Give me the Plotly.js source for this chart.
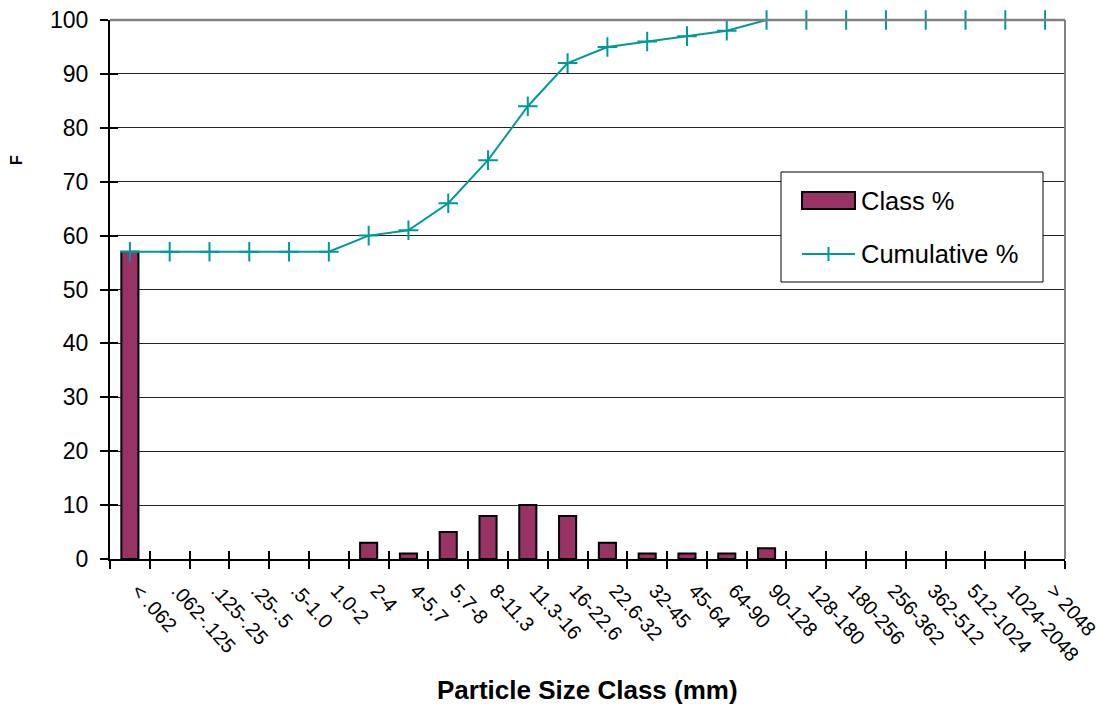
<!DOCTYPE html>
<html><head><meta charset="utf-8">
<script src="https://cdn.plot.ly/plotly-3.0.1.min.js"></script>
<style>html,body{margin:0;padding:0;background:#fff}#c{width:1110px;height:706px}</style>
</head><body><div id="c"></div>
<script>
var categories = ["< .062", ".062-.125", ".125-.25", ".25-.5", ".5-1.0", "1.0-2", "2-4", "4-5.7", "5.7-8", "8-11.3", "11.3-16", "16-22.6", "22.6-32", "32-45", "45-64", "64-90", "90-128", "128-180", "180-256", "256-362", "362-512", "512-1024", "1024-2048", "> 2048"];
var classPct = [57, 0, 0, 0, 0, 0, 3, 1, 5, 8, 10, 8, 3, 1, 1, 1, 2, 0, 0, 0, 0, 0, 0, 0];
var cumulativePct = [57, 57, 57, 57, 57, 57, 60, 61, 66, 74, 84, 92, 95, 96, 97, 98, 100, 100, 100, 100, 100, 100, 100, 100];
var yTicks = [0, 10, 20, 30, 40, 50, 60, 70, 80, 90, 100];

var BAR = '#993366', LINE = '#009999';
var L = 110, R = 45, T = 20, B = 147, W = 1110, H = 706;
var pw = W - L - R, ph = H - T - B;
function px(x){ return (x - L) / pw; }
function py(y){ return (H - B - y) / ph; }

var bounds = [];
for (var i = 0; i <= categories.length; i++) bounds.push(i - 0.5);

var traces = [
  {type:'bar', name:'Class %', x:categories, y:classPct, showlegend:false,
   marker:{color:BAR, line:{color:'#000', width:classPct.map(function(v){return v > 0 ? 2 : 0;})}}, width:0.43},
  {type:'scatter', mode:'lines+markers', name:'Cumulative %', x:categories, y:cumulativePct, showlegend:false, cliponaxis:false,
   line:{color:LINE, width:2}, marker:{symbol:'cross-thin', size:14, line:{color:LINE, width:2}}},
  // invisible helper so the overlay tick axes get drawn
  {type:'scatter', mode:'markers', x:[0], y:[0], xaxis:'x2', yaxis:'y2', showlegend:false, hoverinfo:'skip',
   marker:{size:1, opacity:0}}
];

var layout = {
  width:W, height:H,
  margin:{l:L, r:R, t:T, b:B},
  paper_bgcolor:'#fff', plot_bgcolor:'#fff',
  font:{family:'Liberation Sans, Arial, sans-serif', color:'#000', size:18},
  showlegend:false,
  xaxis:{type:'category', tickangle:48, tickfont:{size:20}, showline:true, linecolor:'#000', linewidth:2,
         ticks:'outside', ticklen:8, tickwidth:1.5, tickcolor:'#000', tickson:'boundaries', showgrid:false,
         automargin:false, range:[-0.5, categories.length - 0.5], ticklabelstandoff:10, ticklabelshift:8},
  xaxis2:{overlaying:'x', anchor:'y2', side:'bottom', range:[-0.5, categories.length - 0.5], tickvals:bounds,
          ticks:'inside', ticklen:8, tickwidth:1.5, tickcolor:'#000', showticklabels:false, showgrid:false,
          zeroline:false, showline:false, automargin:false},
  yaxis:{range:[0,100], tickvals:yTicks, ticks:'outside', ticklen:8, tickwidth:1.5, tickcolor:'#000', showline:true, linecolor:'#000', linewidth:2,
         showgrid:true, gridcolor:'#222', gridwidth:1, zeroline:false, tickfont:{size:23}, automargin:false, ticklabelstandoff:7},
  yaxis2:{overlaying:'y', anchor:'x2', side:'left', range:[0,100], tickvals:yTicks, ticks:'inside', ticklen:8, tickwidth:1.5,
          tickcolor:'#000', showticklabels:false, showgrid:false, zeroline:false, showline:false, automargin:false},
  shapes:[
    {type:'line', xref:'paper', yref:'paper', x0:1, x1:1, y0:0, y1:1, line:{color:'#808080', width:2}},
    {type:'line', xref:'paper', yref:'paper', x0:0, x1:1, y0:1, y1:1, line:{color:'#808080', width:2.5}},
    {type:'rect', xref:'paper', yref:'paper', x0:px(781), x1:px(1043), y0:py(172), y1:py(282),
     fillcolor:'#fff', line:{color:'#000', width:1}, layer:'above'},
    {type:'rect', xref:'paper', yref:'paper', x0:px(802), x1:px(855), y0:py(192), y1:py(209),
     fillcolor:BAR, line:{color:'#000', width:2}, layer:'above'},
    {type:'line', xref:'paper', yref:'paper', x0:px(802), x1:px(855), y0:py(254), y1:py(254),
     line:{color:LINE, width:2}, layer:'above'},
    {type:'line', xref:'paper', yref:'paper', x0:px(828.5), x1:px(828.5), y0:py(247), y1:py(261),
     line:{color:LINE, width:2}, layer:'above'}
  ],
  annotations:[
    {text:'F', xref:'paper', yref:'paper', x:px(16), y:py(160), showarrow:false, textangle:-90,
     font:{size:16, weight:'bold'}, xanchor:'center', yanchor:'middle'},
    {text:'Particle Size Class (mm)', xref:'paper', yref:'paper', x:px(587), y:py(690), showarrow:false,
     font:{size:26, weight:'bold'}, xanchor:'center', yanchor:'middle'},
    {text:'Class %', xref:'paper', yref:'paper', x:px(859), y:py(201), showarrow:false,
     font:{size:25.5}, xanchor:'left', yanchor:'middle'},
    {text:'Cumulative %', xref:'paper', yref:'paper', x:px(859), y:py(254), showarrow:false,
     font:{size:25.5}, xanchor:'left', yanchor:'middle'}
  ]
};
Plotly.newPlot('c', traces, layout, {displayModeBar:false});
</script></body></html>
